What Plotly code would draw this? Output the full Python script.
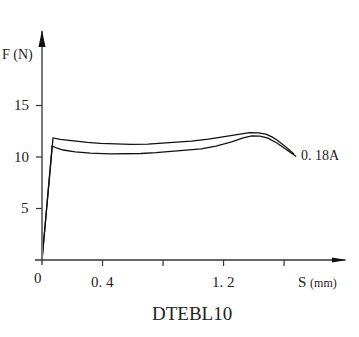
import plotly.graph_objects as go

# Data (S in mm, F in N)
upper_s = [0.0, 0.073, 0.12, 0.187, 0.3, 0.387, 0.5, 0.587, 0.7, 0.787, 0.9, 0.987, 1.1, 1.187,
           1.28, 1.373, 1.43, 1.48, 1.52, 1.553, 1.61, 1.665]
upper_f = [0.0, 11.85, 11.72, 11.6, 11.42, 11.32, 11.25, 11.22, 11.25, 11.32, 11.43, 11.55, 11.74, 11.94,
           12.18, 12.36, 12.35, 12.22, 11.95, 11.65, 11.0, 10.3]
lower_s = [0.0, 0.067, 0.1, 0.14, 0.22, 0.32, 0.453, 0.55, 0.653, 0.753, 0.853, 0.953, 1.053, 1.15,
           1.253, 1.33, 1.387, 1.44, 1.49, 1.553, 1.62, 1.68]
lower_f = [0.0, 11.07, 10.85, 10.68, 10.5, 10.38, 10.3, 10.3, 10.34, 10.42, 10.53, 10.64, 10.78, 11.05,
           11.46, 11.85, 12.04, 12.02, 11.85, 11.36, 10.7, 10.05]

x_ticks = [0.4, 0.8, 1.2, 1.6]
x_tick_labels = ["0. 4", "", "1. 2", ""]
y_ticks = [5, 10, 15]
y_tick_labels = ["5", "10", "15"]
curve_label = "0. 18A"
title_text = "DTEBL10"

W, H = 359, 337
L, R, T, B = 42, 12, 30, 77
XMAX = 2.016
YMAX = 22.33
FONT = "Liberation Serif"

fig = go.Figure()
for s, f in [(upper_s, upper_f), (lower_s, lower_f)]:
    fig.add_trace(go.Scatter(x=s, y=f, mode="lines",
                             line=dict(color="#111", width=1.3, shape="linear"),
                             hoverinfo="skip", showlegend=False, cliponaxis=False))

pw = W - L - R
ph = H - T - B

shapes = []
# y axis line (gray)
shapes.append(dict(type="line", xref="paper", yref="paper",
                   x0=0, x1=0, y0=-5/ph, y1=1 - 1/ph,
                   line=dict(color="#777", width=2)))
# x axis line
shapes.append(dict(type="line", xref="paper", yref="paper",
                   x0=-7/pw, x1=1 - 2/pw, y0=0, y1=0,
                   line=dict(color="#333", width=1.4)))
# arrowheads (paper coords)
shapes.append(dict(type="path", xref="paper", yref="paper",
                   path=f"M {-3.5/pw} {1-17/ph} L {3.5/pw} {1-17/ph} L 0 1 Z",
                   fillcolor="#111", line=dict(width=0)))
shapes.append(dict(type="path", xref="paper", yref="paper",
                   path=f"M {1-15/pw} {2.5/ph} L {1-15/pw} {-2.5/ph} L 1 0 Z",
                   fillcolor="#111", line=dict(width=0)))
# ticks
for v in y_ticks:
    yp = v / YMAX
    shapes.append(dict(type="line", xref="paper", yref="paper",
                       x0=-6/pw, x1=0, y0=yp, y1=yp, line=dict(color="#333", width=1.2)))
for v in x_ticks:
    xp = v / XMAX
    shapes.append(dict(type="line", xref="paper", yref="paper",
                       x0=xp, x1=xp, y0=0, y1=-6/ph, line=dict(color="#333", width=1.2)))

ann = []
for v, t in zip(y_ticks, y_tick_labels):
    ann.append(dict(x=0, y=v / YMAX, xref="paper", yref="paper", text=t, showarrow=False,
                    xanchor="right", yanchor="middle", xshift=-11,
                    font=dict(family=FONT, size=15, color="#222")))
for v, t in zip(x_ticks, x_tick_labels):
    if t:
        ann.append(dict(x=v / XMAX, y=0, xref="paper", yref="paper", text=t, showarrow=False,
                        xanchor="center", yanchor="middle", yshift=-22,
                        font=dict(family=FONT, size=15, color="#222")))
ann.append(dict(x=-4/pw, y=0, xref="paper", yref="paper", text="0", showarrow=False,
                xanchor="center", yanchor="middle", yshift=-18,
                font=dict(family=FONT, size=15, color="#222")))
ann.append(dict(x=-24/pw, y=1 - 25/ph, xref="paper", yref="paper", text="F (N)", showarrow=False,
                xanchor="center", yanchor="middle",
                font=dict(family=FONT, size=14, color="#222")))
ann.append(dict(x=1 - 30/pw, y=0, xref="paper", yref="paper",
                text="S <span style='font-size:12px'>(mm)</span>", showarrow=False,
                xanchor="center", yanchor="middle", yshift=-22,
                font=dict(family=FONT, size=15, color="#222")))
ann.append(dict(x=upper_s[-1], y=(upper_f[-1] + lower_f[-1]) / 2, xref="x", yref="y",
                text=curve_label, showarrow=False, xanchor="left", yanchor="middle", xshift=5,
                font=dict(family=FONT, size=14, color="#222")))
ann.append(dict(x=(192 - L) / pw, y=-(313.5 - (H - B)) / ph, xref="paper", yref="paper",
                text=title_text, showarrow=False, xanchor="center", yanchor="middle",
                font=dict(family=FONT, size=19, color="#222")))

fig.update_layout(
    width=W, height=H,
    margin=dict(l=L, r=R, t=T, b=B),
    paper_bgcolor="white", plot_bgcolor="white",
    xaxis=dict(range=[0, XMAX], visible=False, fixedrange=True),
    yaxis=dict(range=[0, YMAX], visible=False, fixedrange=True),
    shapes=shapes, annotations=ann,
)
fig.write_html("out.html", config={"displayModeBar": False})
